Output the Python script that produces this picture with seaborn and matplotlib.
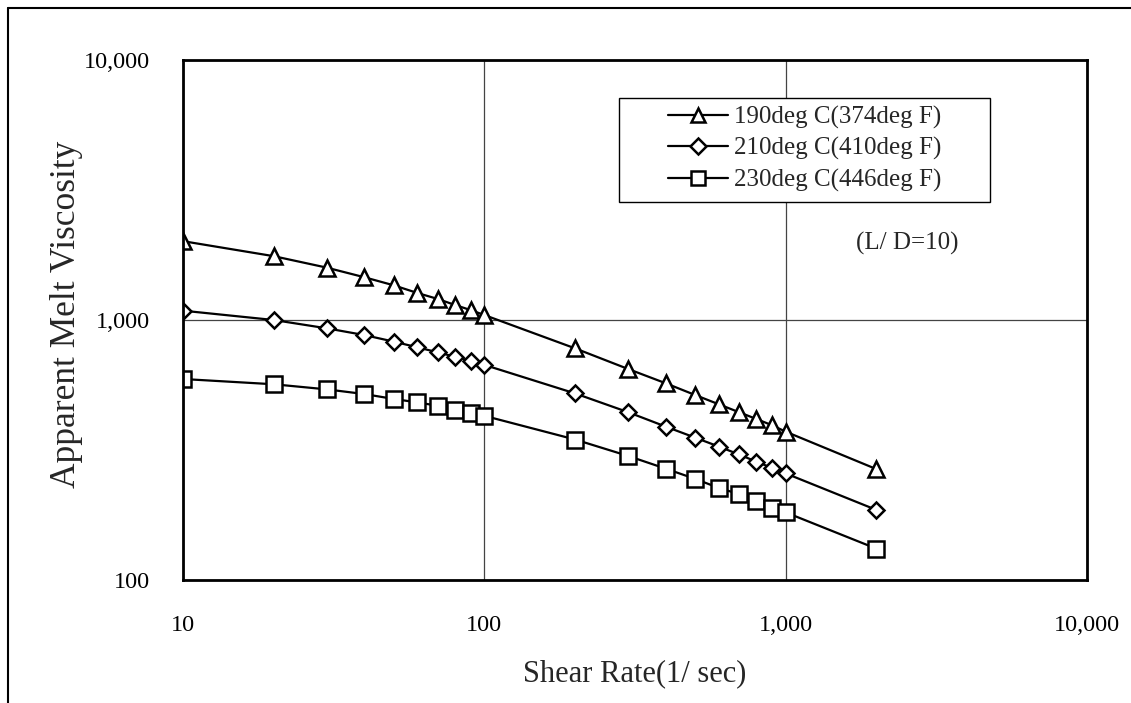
import matplotlib
matplotlib.use("Agg")
import matplotlib.pyplot as plt
from matplotlib.lines import Line2D
from matplotlib.patches import Rectangle
from matplotlib.ticker import FuncFormatter, LogLocator, NullFormatter
import seaborn as sns
import pandas as pd

shear_rate = [10, 20, 30, 40, 50, 60, 70, 80, 90, 100,
              200, 300, 400, 500, 600, 700, 800, 900, 1000, 2000]
visc_190 = [2010, 1760, 1590, 1460, 1360, 1270, 1205, 1142, 1092, 1045,
            778, 648, 571, 515, 474, 442, 416, 394, 372, 267]
visc_210 = [1086, 1000, 929, 875, 826, 785, 751, 722, 696, 672,
            522, 442, 389, 353, 326, 304, 285, 270, 257, 186]
visc_230 = [593, 566, 541, 519, 497, 482, 468, 450, 440, 428,
            347, 300, 268, 245, 226, 214, 201, 190, 182, 132]
labels = ["190deg C(374deg F)", "210deg C(410deg F)", "230deg C(446deg F)"]
markers = ["^", "D", "s"]
marker_sizes = [11, 8.5, 11.5]
x_label = "Shear Rate(1/ sec)"
y_label = "Apparent Melt Viscosity"
note = "(L/ D=10)"

sns.set_style("white")
plt.rcParams["font.family"] = ["Liberation Serif", "DejaVu Serif"]

W, H = 1131, 703
fig = plt.figure(figsize=(W / 100, H / 100), dpi=100)
ax = fig.add_axes([183 / W, 1 - 580 / H, (1087 - 183) / W, (580 - 60) / H])

series = [visc_190, visc_210, visc_230]
for vals, lab, mk, ms in zip(series, labels, markers, marker_sizes):
    df = pd.DataFrame({"x": shear_rate, "y": vals})
    sns.lineplot(data=df, x="x", y="y", ax=ax, color="black", lw=1.6,
                 marker=mk, markersize=ms, markerfacecolor="white",
                 markeredgecolor="black", markeredgewidth=1.8, label=lab)

ax.set_xscale("log")
ax.set_yscale("log")
ax.set_xlim(10, 10000)
ax.set_ylim(100, 10000)

fmt = FuncFormatter(lambda v, p: f"{v:,.0f}")
ax.xaxis.set_major_formatter(fmt)
ax.yaxis.set_major_formatter(fmt)
ax.xaxis.set_minor_locator(LogLocator(base=10, subs=range(2, 10)))
ax.yaxis.set_minor_locator(LogLocator(base=10, subs=range(2, 10)))
ax.xaxis.set_minor_formatter(NullFormatter())
ax.yaxis.set_minor_formatter(NullFormatter())
ax.tick_params(which="major", direction="in", length=0, labelsize=17.5, pad=24, colors="black")
ax.tick_params(which="minor", direction="in", length=6, width=1, colors="black")
ax.tick_params(axis="x", which="major", pad=25)

ax.grid(True, which="major", color="#444444", lw=0.9)
for s in ax.spines.values():
    s.set_visible(True)
    s.set_color("black")
    s.set_linewidth(2)

ax.set_xlabel(x_label, fontsize=22)
ax.set_ylabel(y_label, fontsize=25.5)
ax.xaxis.set_label_coords(0.5, -0.152)
ax.yaxis.set_label_coords(-0.111, 0.51)

# legend box (frame drawn separately to match wide horizontal padding)
bx0, by0, bx1, by1 = 619, 98, 990, 202
ax.add_patch(Rectangle(((bx0 - 183) / 904, 1 - (by1 - 60) / 520),
                       (bx1 - bx0) / 904, (by1 - by0) / 520,
                       transform=ax.transAxes, facecolor="white",
                       edgecolor="black", lw=1, zorder=4))
leg = ax.legend(loc="upper left", bbox_to_anchor=((668 - 183) / 904, 1 - (106 - 60) / 520),
                fontsize=18, frameon=False,
                handlelength=2.4, handletextpad=0.25, labelspacing=0.33,
                borderpad=0.0, borderaxespad=0, markerscale=0.9)
leg.set_zorder(5)

ax.text((907 - 183) / 904, 1 - (243 - 60) / 520, note, transform=ax.transAxes,
        fontsize=18, ha="center", va="center")

fig.add_artist(Line2D([8 / W, 1], [1 - 8 / H, 1 - 8 / H], transform=fig.transFigure,
                      color="black", lw=1.5))
fig.add_artist(Line2D([8 / W, 8 / W], [0, 1 - 8 / H], transform=fig.transFigure,
                      color="black", lw=1.5))

fig.savefig("out.png", dpi=100, facecolor="white")
